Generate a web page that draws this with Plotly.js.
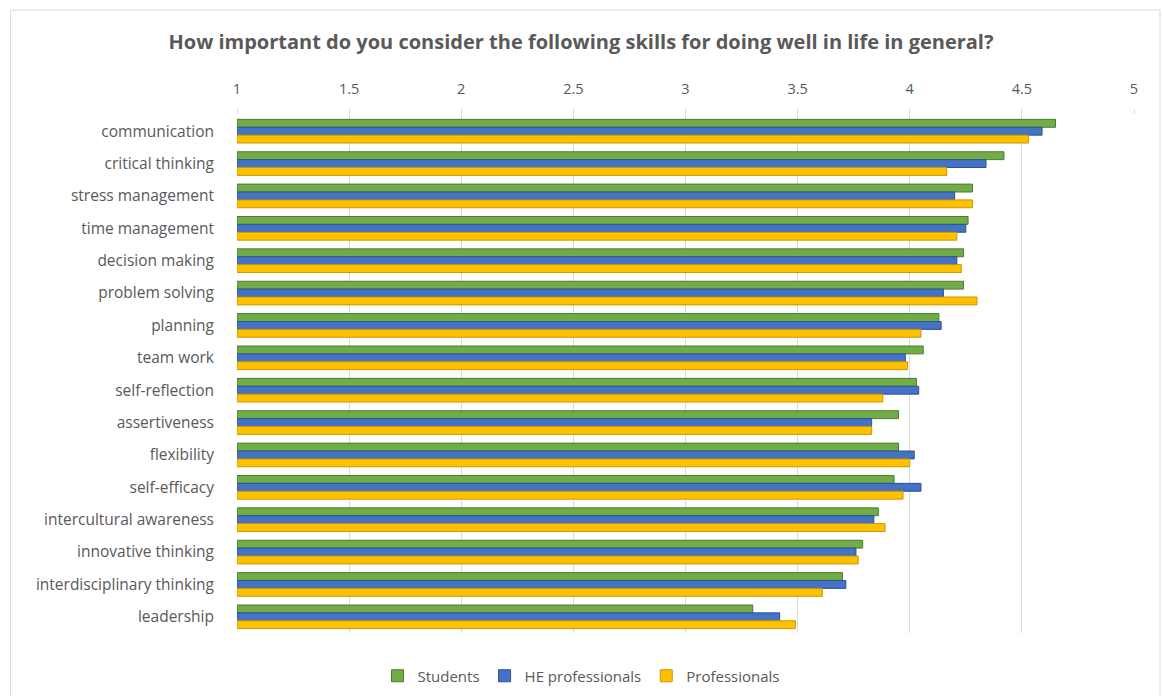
<!DOCTYPE html>
<html>
<head>
<meta charset="utf-8">
<script src="https://cdn.plot.ly/plotly-3.0.1.min.js"></script>
<style>html,body{margin:0;padding:0;background:#fff;}#chart{width:1162px;height:696px;}</style>
</head>
<body>
<div id="chart"></div>
<script>
const skills = ["communication","critical thinking","stress management","time management","decision making","problem solving","planning","team work","self-reflection","assertiveness","flexibility","self-efficacy","intercultural awareness","innovative thinking","interdisciplinary thinking","leadership"];
const students = [4.65,4.42,4.28,4.26,4.24,4.24,4.13,4.06,4.03,3.95,3.95,3.93,3.86,3.79,3.70,3.30];
const heProfessionals = [4.59,4.34,4.20,4.25,4.21,4.15,4.14,3.98,4.04,3.83,4.02,4.05,3.84,3.76,3.715,3.42];
const professionals = [4.53,4.165,4.28,4.21,4.23,4.30,4.05,3.99,3.88,3.83,4.00,3.97,3.89,3.77,3.61,3.49];
const xTicks = [1,1.5,2,2.5,3,3.5,4,4.5,5];
const seriesNames = ["Students","HE professionals","Professionals"];
const seriesColors = ["#70AD47","#4472C4","#FFC000"];
const edgeColors = ["#4E7A31","#2F5290","#C99700"];

const font = "Open Sans, Liberation Sans, sans-serif";
const W = 1162, H = 696, L = 236.5, R = 28, T = 115, B = 63;
const pw = W - L - R, ph = H - T - B;

const traces = [students, heProfessionals, professionals].map((vals, i) => ({
  type:"bar", orientation:"h", name:seriesNames[i], y:skills,
  x:vals.map(v => v - 1), base:1,
  marker:{color:seriesColors[i], line:{color:edgeColors[i], width:1}}
}));

const layout = {
  width:W, height:H,
  margin:{l:L, r:R, t:T, b:B, pad:0, autoexpand:false},
  paper_bgcolor:"#fff", plot_bgcolor:"#fff",
  title:{text:"How important do you consider the following skills for doing well in life in general?",
    font:{family:font, size:20, color:"#595959", weight:"bold"}, x:0.5, xanchor:"center", y:0.94, yanchor:"middle"},
  barmode:"group", bargap:0.27, bargroupgap:0,
  xaxis:{range:[1,5], side:"top", tickvals:xTicks, ticktext:xTicks.map(String),
    showgrid:true, gridcolor:"#d9d9d9", gridwidth:1, zeroline:false, showline:false,
    ticks:"outside", ticklen:5, tickcolor:"#d9d9d9", ticklabelstandoff:9,
    tickfont:{family:font, size:14.5, color:"#595959"}, fixedrange:true, automargin:false},
  yaxis:{autorange:"reversed", type:"category", showgrid:false, zeroline:false, showline:false,
    ticks:"", ticklabelstandoff:22, tickfont:{family:font, size:15.5, color:"#595959"}, automargin:false},
  legend:{orientation:"h", x:0.5, xanchor:"center", xref:"container", yref:"container", y:(H-676)/H, yanchor:"middle",
    font:{family:font, size:15, color:"#595959"}, itemwidth:30, traceorder:"normal"},
  showlegend:true,
  shapes:[{type:"rect", xref:"paper", yref:"paper",
    x0:(10-L)/pw, x1:(1160-L)/pw, y0:-(700-T-ph)/ph, y1:1+(T-10)/ph,
    line:{color:"#d9d9d9", width:1}, fillcolor:"rgba(0,0,0,0)", layer:"below"}]
};
Plotly.newPlot("chart", traces, layout, {displayModeBar:false, staticPlot:true});
</script>
</body>
</html>
